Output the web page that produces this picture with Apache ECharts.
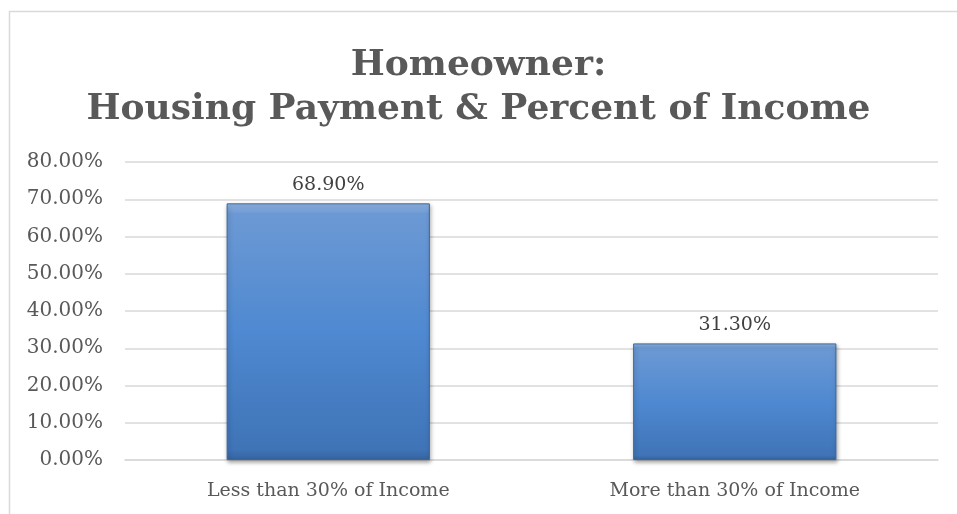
<!DOCTYPE html>
<html>
<head>
<meta charset="utf-8">
<script src="https://cdn.jsdelivr.net/npm/echarts@6/dist/echarts.min.js"></script>
<style>
  html, body { margin: 0; padding: 0; background: #fff; }
  #grafico { width: 957px; height: 514px; }
</style>
</head>
<body>
<div id="grafico"></div>
<script>
const categorias = ['Less than 30% of Income', 'More than 30% of Income'];
const valores = [68.9, 31.3];
const titulo = 'Homeowner:\nHousing Payment & Percent of Income';

const fuente = '"DejaVu Serif", "Liberation Serif", serif';
const miGrafico = echarts.init(document.getElementById('grafico'));

const opciones = {
  animation: false,
  backgroundColor: '#fff',
  graphic: [{
    type: 'rect',
    left: 7,
    top: 9,
    shape: { width: 980, height: 540 },
    style: { fill: 'none', stroke: '#d9d9d9', lineWidth: 1.5 },
    silent: true
  }],
  title: {
    text: titulo,
    left: 'center',
    top: 39,
    textStyle: {
      fontFamily: fuente,
      fontWeight: 'bold',
      fontSize: 36,
      lineHeight: 44,
      color: '#595959'
    }
  },
  grid: { left: 125, right: 19, top: 162, bottom: 54 },
  xAxis: {
    type: 'category',
    data: categorias,
    axisLine: { lineStyle: { color: '#d9d9d9', width: 1.5 } },
    axisTick: { show: false },
    axisLabel: {
      color: '#595959',
      fontFamily: fuente,
      fontSize: 19,
      margin: 22
    }
  },
  yAxis: {
    type: 'value',
    min: 0,
    max: 80,
    interval: 10,
    axisLine: { show: false },
    axisTick: { show: false },
    splitLine: { lineStyle: { color: '#d9d9d9', width: 1.5 } },
    axisLabel: {
      color: '#595959',
      fontFamily: fuente,
      fontSize: 20,
      margin: 22,
      formatter: v => v.toFixed(2) + '%'
    }
  },
  series: [{
    type: 'bar',
    data: valores,
    barWidth: '50%',
    itemStyle: {
      color: new echarts.graphic.LinearGradient(0, 0, 0, 1, [
        { offset: 0, color: '#94b8e6' },
        { offset: 0.04, color: '#6c99d4' },
        { offset: 0.5, color: '#4f89d1' },
        { offset: 0.96, color: '#3f74b7' },
        { offset: 1, color: '#36649f' }
      ]),
      borderColor: '#3a679f',
      borderWidth: 1,
      shadowColor: 'rgba(0,0,0,0.35)',
      shadowBlur: 4,
      shadowOffsetX: 1,
      shadowOffsetY: 2
    },
    label: {
      show: true,
      position: 'top',
      distance: 9,
      color: '#404040',
      fontFamily: fuente,
      fontSize: 19,
      formatter: ({ value }) => value.toFixed(2) + '%'
    }
  }]
};

miGrafico.setOption(opciones);
</script>
</body>
</html>
